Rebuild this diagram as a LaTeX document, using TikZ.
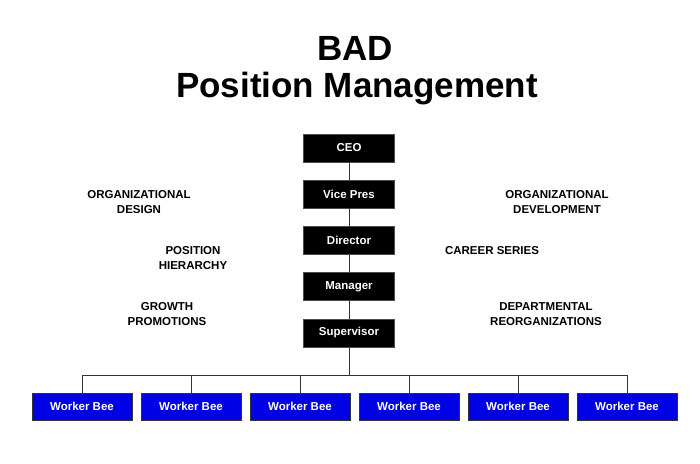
\documentclass[tikz,border=0pt]{standalone}
\usepackage{fontspec}
\setmainfont{Liberation Sans}
\usetikzlibrary{positioning}

\begin{document}
\begin{tikzpicture}[x=1pt, y=-1pt,
  rank/.style={fill=black, draw=black!70, text=white, minimum width=91pt, minimum height=28pt, inner sep=0pt, font=\fontsize{11.5}{14}\selectfont\bfseries},
  bee/.style={fill=blue!90!black, draw=black!80, text=white, minimum width=100pt, minimum height=27pt, inner sep=0pt, font=\fontsize{11.5}{14}\selectfont\bfseries},
  topic/.style={align=center, font=\fontsize{11.5}{15}\selectfont\bfseries},
  wire/.style={draw=black!80, line width=0.7pt}]

\useasboundingbox (0,0) rectangle (700,463);

\node[anchor=base, font=\fontsize{35}{37}\selectfont\bfseries] (title1) at (355,60) {BAD};
\node[anchor=base, font=\fontsize{35}{37}\selectfont\bfseries] (title2) at (357,97) {Position Management};

\node[rank] (CEO) at (349,148) {CEO};
\node[rank] (VP) at (349,194) {Vice Pres};
\node[rank] (Dir) at (349,240.5) {Director};
\node[rank] (Man) at (349,286.5) {Manager};
\node[rank] (Sup) at (349,333) {Supervisor};

\draw[wire] (CEO) -- (VP);
\draw[wire] (VP) -- (Dir);
\draw[wire] (Dir) -- (Man);
\draw[wire] (Man) -- (Sup);

\coordinate (bus) at (349,375);
\draw[wire] (Sup) -- (bus);

\foreach \i/\x in {1/82, 2/191, 3/300, 4/409, 5/518, 6/627}
{
  \node[bee] (W\i) at (\x,406.5) {Worker Bee};
  \draw[wire] (bus) -| (W\i);
}

\node[topic] (orgdes) at (139,202.5) {ORGANIZATIONAL\\DESIGN};
\node[topic] (poshier) at (193,258.5) {POSITION\\HIERARCHY};
\node[topic] (growth) at (167,314) {GROWTH\\PROMOTIONS};
\node[topic] (orgdev) at (557,202.5) {ORGANIZATIONAL\\DEVELOPMENT};
\node[topic] (career) at (492,251) {CAREER SERIES};
\node[topic] (reorg) at (546,314) {DEPARTMENTAL\\REORGANIZATIONS};

\end{tikzpicture}
\end{document}
